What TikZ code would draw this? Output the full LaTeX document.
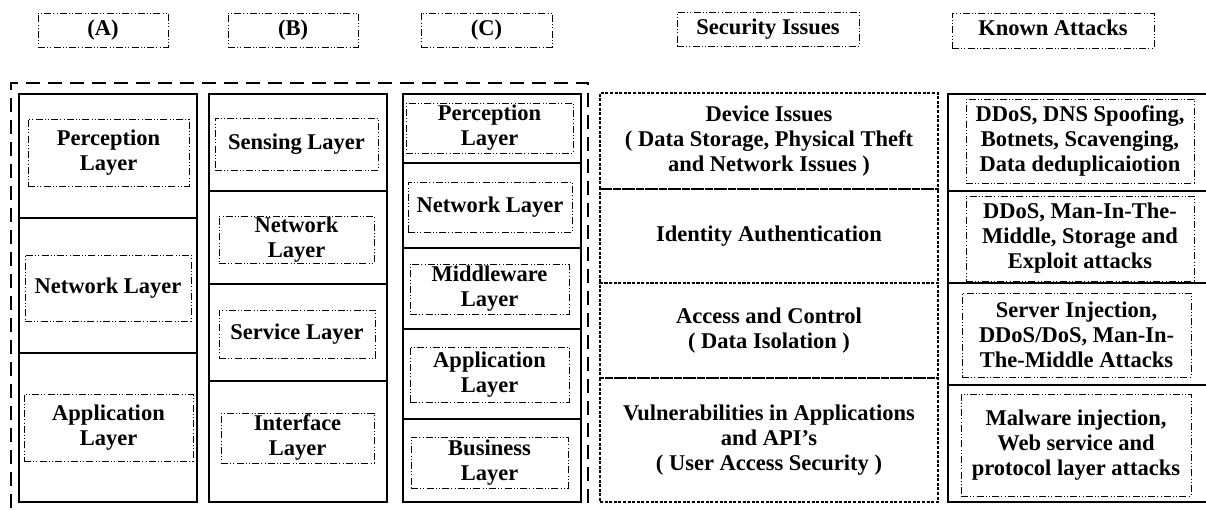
\documentclass[tikz,border=0pt]{standalone}
\usepackage{fontspec}
\setmainfont{Liberation Serif}
\begin{document}
\begin{tikzpicture}[x=1pt,y=-1pt,
  every node/.style={font=\bfseries\fontsize{22.5}{25}\selectfont, align=center, inner sep=0pt},
  inbox/.style={draw, line width=0.8pt, dash pattern=on 7pt off 2.2pt on 1pt off 2.2pt on 1pt off 2.2pt},
  hdr/.style={inbox, text height=15.5pt, text depth=4.5pt},
  seccell/.style={draw, line width=1.8pt, dash pattern=on 3pt off 1.6pt},
  cell/.style={line width=2.3pt},
  outerbox/.style={line width=2.4pt, dash pattern=on 14pt off 8pt}]
\useasboundingbox (0,0) rectangle (1206,510);
\clip (0,0) rectangle (1206,510);

% column headings
\node[hdr, minimum width=130, minimum height=34] (hA) at (103,30) {(A)};
\node[hdr, minimum width=130, minimum height=34] (hB) at (293,30) {(B)};
\node[hdr, minimum width=131, minimum height=34] (hC) at (486.5,30) {(C)};
\node[hdr, minimum width=182, minimum height=34] (hS) at (768,29.5) {Security Issues};
\node[hdr, minimum width=202, minimum height=35] (hK) at (1053,30.5) {Known Attacks};

% dashed frame around the three architectures
\draw[outerbox] (11,530) -- (11,83) -- (588,83) -- (588,530);

% architecture (A)
\draw[cell] (19,94) rectangle (197,218);
\draw[cell] (19,218) rectangle (197,353);
\draw[cell] (19,353) rectangle (197,502);
\node[inbox, minimum width=161, minimum height=67] (a1) at (108.5,152.5) {Perception\\Layer};
\node[inbox, minimum width=166, minimum height=66] (a2) at (108,288) {Network Layer};
\node[inbox, minimum width=169, minimum height=67] (a3) at (108.5,427.5) {Application\\Layer};

% architecture (B)
\draw[cell] (209,94) rectangle (387,191);
\draw[cell] (209,191) rectangle (387,284);
\draw[cell] (209,284) rectangle (387,381);
\draw[cell] (209,381) rectangle (387,502);
\node[inbox, minimum width=163, minimum height=52] (b1) at (296.5,144) {Sensing Layer};
\node[inbox, minimum width=155, minimum height=47] (b2) at (296.5,239.5) {Network\\Layer};
\node[inbox, minimum width=156, minimum height=48] (b3) at (297,334) {Service Layer};
\node[inbox, minimum width=153, minimum height=50] (b4) at (297.5,438) {Interface\\Layer};

% architecture (C)
\draw[cell] (403,94) rectangle (581,163);
\draw[cell] (403,163) rectangle (581,248);
\draw[cell] (403,248) rectangle (581,329);
\draw[cell] (403,329) rectangle (581,419);
\draw[cell] (403,419) rectangle (581,502);
\node[inbox, minimum width=167, minimum height=50] (c1) at (489.5,128) {Perception\\Layer};
\node[inbox, minimum width=164, minimum height=50] (c2) at (490,207) {Network Layer};
\node[inbox, minimum width=159, minimum height=50] (c3) at (489.5,289) {Middleware\\Layer};
\node[inbox, minimum width=159, minimum height=55] (c4) at (489.5,374.5) {Application\\Layer};
\node[inbox, minimum width=157, minimum height=51] (c5) at (489.5,462.5) {Business\\Layer};

% security issues
\node[seccell, minimum width=338, minimum height=96] (s1) at (769,141) {Device Issues\\( Data Storage, Physical Theft\\and Network Issues )};
\node[seccell, minimum width=338, minimum height=94] (s2) at (769,236) {Identity Authentication};
\node[seccell, minimum width=338, minimum height=95] (s3) at (769,330.5) {Access and Control\\( Data Isolation )};
\node[seccell, minimum width=338, minimum height=124] (s4) at (769,440) {Vulnerabilities in Applications\\and API’s\\( User Access Security )};

% known attacks
\draw[cell] (948,94) rectangle (1220,191);
\draw[cell] (948,191) rectangle (1220,283);
\draw[cell] (948,283) rectangle (1220,385);
\draw[cell] (948,385) rectangle (1220,502);
\node[inbox, minimum width=228, minimum height=84] (k1) at (1080,141) {DDoS, DNS Spoofing,\\Botnets, Scavenging,\\Data deduplicaiotion};
\node[inbox, minimum width=228, minimum height=85] (k2) at (1080,238.5) {DDoS, Man-In-The-\\Middle, Storage and\\Exploit attacks};
\node[inbox, minimum width=229, minimum height=84] (k3) at (1076.5,335) {Server Injection,\\DDoS/DoS, Man-In-\\The-Middle Attacks};
\node[inbox, minimum width=230, minimum height=102] (k4) at (1076,445) {Malware injection,\\Web service and\\protocol layer attacks};
\end{tikzpicture}
\end{document}
